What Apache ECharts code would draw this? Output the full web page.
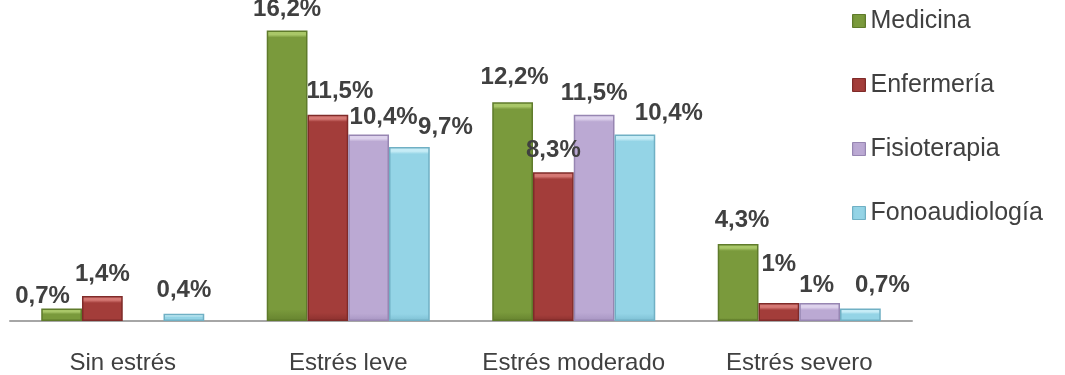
<!DOCTYPE html>
<html>
<head>
<meta charset="utf-8">
<script src="https://cdn.jsdelivr.net/npm/echarts@6/dist/echarts.min.js"></script>
<style>
  html, body { margin: 0; padding: 0; background: #ffffff; }
  #chart { width: 1065px; height: 375px; }
</style>
</head>
<body>
<div id="chart"></div>
<script>
// Stress levels by programme (percentages)
const categories = ['Sin estrés', 'Estrés leve', 'Estrés moderado', 'Estrés severo'];
const seriesNames = ['Medicina', 'Enfermería', 'Fisioterapia', 'Fonoaudiología'];
const medicina = [0.7, 16.2, 12.2, 4.3];
const enfermeria = [1.4, 11.5, 8.3, 1.0];
const fisioterapia = [null, 10.4, 11.5, 1.0];
const fonoaudiologia = [0.4, 9.7, 10.4, 0.7];

// Small per-label shifts [dx, dy] so neighbouring value labels don't collide
const labelNudge = [
  [[-19, 11], [0, 2], [2, -2], [4, -1]],
  [[0, 1], [12, 0], [0, 1], [0, -16]],
  [[0, 0], [15, 6], [0, 2], [-3, 5]],
  [[0, 0], [36, 3], [34, 2], [22, 0]]
];

// Bevelled fill per programme: light top face, flat body, darker rim
const palette = [
  { top: '#a9c768', mid: '#7a9a3c', edge: '#66832f', border: '#5f7b2b' },
  { top: '#d57874', mid: '#a33d3a', edge: '#8b302e', border: '#7f2b29' },
  { top: '#ddd2ec', mid: '#bba9d3', edge: '#a795c2', border: '#9786b2' },
  { top: '#c6ecf6', mid: '#94d4e6', edge: '#7dbfd3', border: '#70b0c4' }
];

const seriesValues = [medicina, enfermeria, fisioterapia, fonoaudiologia];
const yMax = 17.9;
const plotHeight = 321;
const bevelPx = 7;

function fmt(v) {
  return String(v).replace('.', ',') + '%';
}

function barFill(p, value) {
  const h = value / yMax * plotHeight;
  const f = Math.min(0.45, bevelPx / Math.max(h, 1));
  return {
    type: 'linear', x: 0, y: 0, x2: 0, y2: 1,
    colorStops: [
      { offset: 0, color: p.top },
      { offset: f * 0.6, color: p.top },
      { offset: f, color: p.mid },
      { offset: 0.96, color: p.mid },
      { offset: 1, color: p.edge }
    ]
  };
}

function sideShade(p) {
  return {
    type: 'linear', x: 0, y: 0, x2: 1, y2: 0,
    colorStops: [
      { offset: 0, color: p.edge },
      { offset: 0.2, color: p.mid },
      { offset: 0.8, color: p.mid },
      { offset: 1, color: p.edge }
    ]
  };
}

const series = seriesNames.map((name, si) => ({
  name: name,
  type: 'bar',
  barGap: '0%',
  barCategoryGap: '27.7%',
  itemStyle: {
    color: sideShade(palette[si]),
    borderColor: palette[si].border,
    borderWidth: 1.5
  },
  label: {
    show: true,
    position: 'top',
    distance: 11,
    color: '#404040',
    fontFamily: 'Liberation Sans, Arial, sans-serif',
    fontWeight: 'bold',
    fontSize: 24,
    formatter: (p) => fmt(p.value)
  },
  data: seriesValues[si].map((v, ci) => {
    if (v === null) return { value: null, label: { show: false } };
    return {
      value: v,
      itemStyle: { color: barFill(palette[si], v) },
      label: { offset: labelNudge[si][ci] }
    };
  })
}));

const chart = echarts.init(document.getElementById('chart'), null, { renderer: 'canvas' });
chart.setOption({
  animation: false,
  backgroundColor: '#ffffff',
  color: palette.map(p => p.mid),
  legend: {
    orient: 'vertical',
    left: 847,
    top: 3,
    itemWidth: 13,
    itemHeight: 13,
    itemGap: 38,
    icon: 'rect',
    textStyle: {
      color: '#404040',
      fontFamily: 'Liberation Sans, Arial, sans-serif',
      fontSize: 25,
      lineHeight: 26
    },
    data: seriesNames.map((n, i) => ({
      name: n,
      itemStyle: { color: sideShade(palette[i]), borderColor: palette[i].border, borderWidth: 1 }
    }))
  },
  grid: { left: 10, right: 153, top: 0, bottom: 54, containLabel: false },
  xAxis: {
    type: 'category',
    data: categories,
    axisLine: { show: true, lineStyle: { color: '#a6a6a6', width: 2 } },
    axisTick: { show: false },
    axisLabel: {
      color: '#404040',
      fontFamily: 'Liberation Sans, Arial, sans-serif',
      fontSize: 24,
      margin: 30,
      interval: 0
    }
  },
  yAxis: {
    type: 'value',
    min: 0,
    max: yMax,
    show: false,
    splitLine: { show: false }
  },
  series: series
});
</script>
</body>
</html>
